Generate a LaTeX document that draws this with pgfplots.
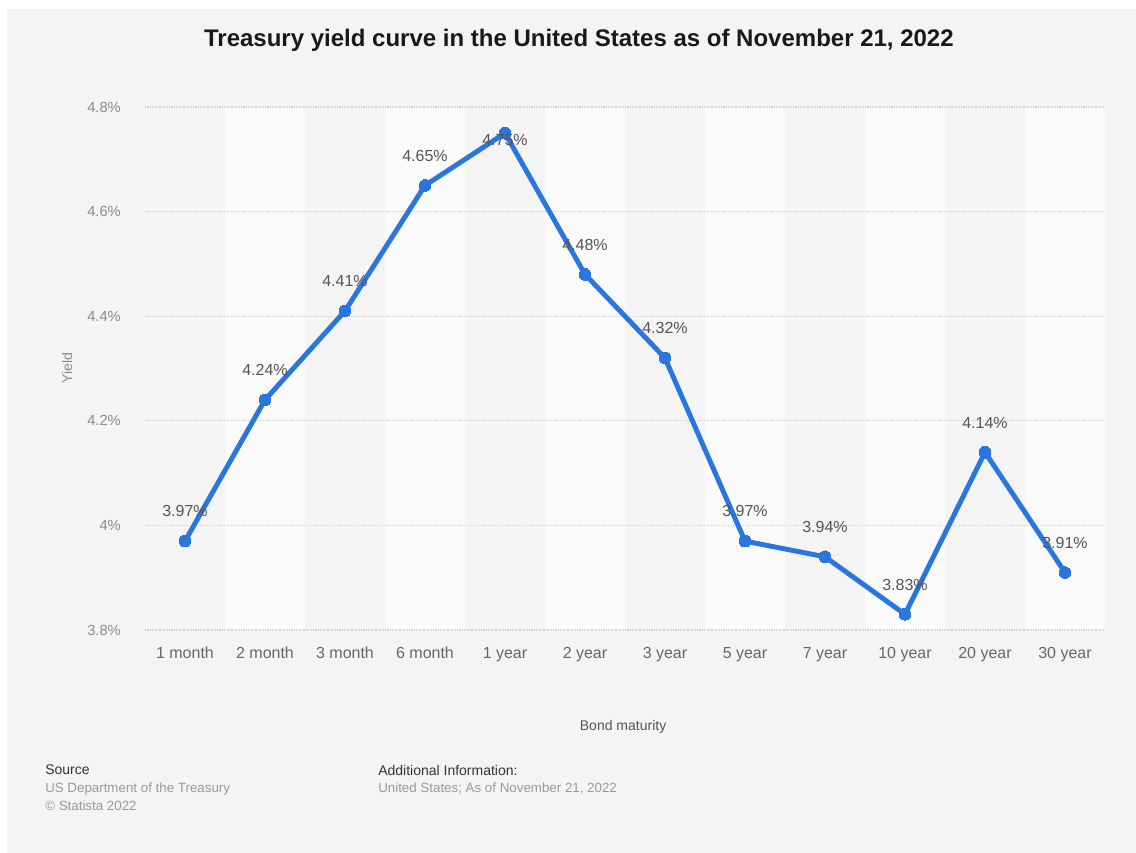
\documentclass[border=0pt]{standalone}
\usepackage{pgfplots}
\pgfplotsset{compat=1.18}
\usepackage{pgfplotstable}
\usepackage{fontspec}
\setmainfont{Liberation Sans}
\definecolor{bg}{HTML}{F4F4F4}
\definecolor{band}{HTML}{FAFAFA}
\definecolor{lineblue}{RGB}{40,118,222}
\definecolor{gridc}{HTML}{D2D2D2}
\definecolor{tickc}{HTML}{666666}
\definecolor{ytickc}{HTML}{8A8A8A}
\definecolor{labc}{HTML}{555555}
\pgfplotstableread{
x y dy
0 3.97 18
1 4.24 18
2 4.41 18
3 4.65 18
4 4.75 -9.75
5 4.48 18
6 4.32 18
7 3.97 18
8 3.94 18
9 3.83 18
10 4.14 18
11 3.91 18
}\yielddata
\pgfplotsset{geom/.style={
  at={(108.75pt,-472.5pt)}, anchor=south west,
  width=720pt, height=392.25pt, scale only axis,
  xmin=-0.5, xmax=11.5, ymin=3.8, ymax=4.8}}
\begin{document}
\begin{tikzpicture}
\fill[white] (0,0) rectangle ({1136*0.75pt},{-853*0.75pt});
\fill[bg] ({7*0.75pt},{-9*0.75pt}) rectangle ({1136*0.75pt},{-853*0.75pt});
\begin{axis}[geom, hide axis]
\fill[band] (axis cs:0.5,3.8) rectangle (axis cs:1.5,4.8);
\fill[band] (axis cs:2.5,3.8) rectangle (axis cs:3.5,4.8);
\fill[band] (axis cs:4.5,3.8) rectangle (axis cs:5.5,4.8);
\fill[band] (axis cs:6.5,3.8) rectangle (axis cs:7.5,4.8);
\fill[band] (axis cs:8.5,3.8) rectangle (axis cs:9.5,4.8);
\fill[band] (axis cs:10.5,3.8) rectangle (axis cs:11.5,4.8);
\end{axis}
\begin{axis}[
  geom,
  /pgf/number format/assume math mode=true,
  axis line style={draw=none}, tick style={draw=none},
  xtick={0,...,11},
  xticklabels={1 month,2 month,3 month,6 month,1 year,2 year,3 year,5 year,7 year,10 year,20 year,30 year},
  ytick={3.8,4,4.2,4.4,4.6,4.8},
  yticklabels={3.8\%,4\%,4.2\%,4.4\%,4.6\%,4.8\%},
  xticklabel style={font=\fontsize{12}{14}\selectfont, text=tickc, inner sep=0pt, anchor=base, yshift=-21.5pt},
  yticklabel style={font=\fontsize{11}{13}\selectfont, text=ytickc, inner sep=0pt, anchor=east, xshift=-18pt},
  ymajorgrids, grid style={gridc, line width=0.8pt, dash pattern=on 0.9pt off 0.9pt},
  clip=false,
  title={Treasury yield curve in the United States as of November 21, 2022},
  title style={at={(0.452,1.113)}, anchor=center, yshift=0pt, font=\bfseries\fontsize{18}{21}\selectfont, text=black!90},
  xlabel={Bond maturity},
  xlabel style={at={(0.498,-0.1855)}, anchor=center, font=\fontsize{10.5}{12}\selectfont, text=labc},
  ylabel={Yield},
  ylabel style={at={(-0.08125,0.501)}, anchor=center, font=\fontsize{10.5}{12}\selectfont, text=ytickc},
]
\addplot[color=lineblue, line width=3.7pt, line join=round, mark=*, mark size=4.4pt,
  mark options={fill=lineblue, draw=lineblue, line width=0pt},
  visualization depends on={\thisrow{dy} \as \labdy},
  nodes near coords={\pgfmathprintnumber[fixed,precision=2,fixed zerofill]{\pgfplotspointmeta}\%},
  every node near coord/.append style={font=\fontsize{12}{14}\selectfont, text=labc, inner sep=0pt, anchor=south, yshift=\labdy pt}
] table[x=x, y=y] {\yielddata};
\end{axis}
\node[anchor=west, inner sep=0pt, font=\fontsize{10.5}{12}\selectfont, text=black!80] at ({45*0.75pt},{-770*0.75pt}) {Source};
\node[anchor=west, inner sep=0pt, font=\fontsize{10}{12}\selectfont, text=black!40] at ({45*0.75pt},{-789*0.75pt}) {US Department of the Treasury};
\node[anchor=west, inner sep=0pt, font=\fontsize{10}{12}\selectfont, text=black!40] at ({45*0.75pt},{-806*0.75pt}) {© Statista 2022};
\node[anchor=west, inner sep=0pt, font=\fontsize{10.5}{12}\selectfont, text=black!80] at ({378*0.75pt},{-770*0.75pt}) {Additional Information:};
\node[anchor=west, inner sep=0pt, font=\fontsize{10}{12}\selectfont, text=black!40] at ({378*0.75pt},{-789*0.75pt}) {United States; As of November 21, 2022};
\end{tikzpicture}
\end{document}
